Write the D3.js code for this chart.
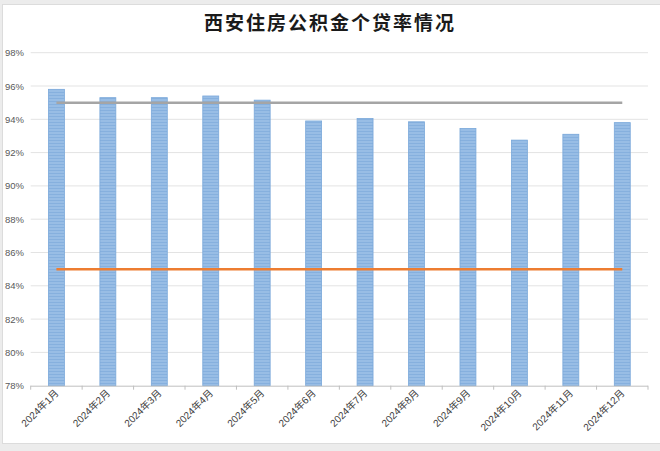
<!DOCTYPE html>
<html><head><meta charset="utf-8">
<script src="https://cdn.jsdelivr.net/npm/d3@7"></script>
<style>
html,body{margin:0;padding:0;background:#fff;}
svg{display:block;}
text{font-family:"Liberation Sans","Noto Sans CJK SC",Arial,sans-serif;}
</style></head>
<body>
<svg id="c" width="660" height="451"></svg>
<script>
const months = ["2024年1月","2024年2月","2024年3月","2024年4月","2024年5月","2024年6月","2024年7月","2024年8月","2024年9月","2024年10月","2024年11月","2024年12月"];
const rates = [95.8, 95.3, 95.3, 95.4, 95.15, 93.9, 94.05, 93.85, 93.45, 92.75, 93.1, 93.8];
const upperLine = [95,95,95,95,95,95,95,95,95,95,95,95];
const lowerLine = [85,85,85,85,85,85,85,85,85,85,85,85];
const yTicks = [78,80,82,84,86,88,90,92,94,96,98];
const title = "西安住房公积金个贷率情况";

const svg = d3.select("#c");
// frame
svg.append("rect").attr("x",0).attr("y",0).attr("width",660).attr("height",451).attr("fill","#ececec");
svg.append("rect").attr("x",2.5).attr("y",4.5).attr("width",658).attr("height",439).attr("fill","#fff").attr("stroke","#dcdcdc");

const x = d3.scaleBand().domain(months).range([30.7, 648]).padding(0);
const y = d3.scaleLinear().domain([78, 98]).range([385.7, 52.7]);

// gridlines
svg.append("g").selectAll("line").data(yTicks.slice(1)).join("line")
  .attr("x1", 30.7).attr("x2", 648)
  .attr("y1", d => y(d)).attr("y2", d => y(d))
  .attr("stroke", "#e3e3e3").attr("stroke-width", 1);

// y labels
svg.append("g").selectAll("text").data(yTicks).join("text")
  .attr("x", 24).attr("y", d => y(d) + 3.5)
  .attr("text-anchor", "end").attr("font-size", 9.5).attr("fill", "#595959")
  .text(d => d + "%");

// bars
const defs = svg.append("defs");
const pat = defs.append("pattern").attr("id","stripe").attr("patternUnits","userSpaceOnUse")
  .attr("width",4).attr("height",3);
pat.append("rect").attr("width",4).attr("height",3).attr("fill","#98bde5");
pat.append("rect").attr("y",2).attr("width",4).attr("height",1).attr("fill","#86b0de");

const bw = x.bandwidth() * 0.31;
svg.append("g").selectAll("rect").data(rates).join("rect")
  .attr("x", (d, i) => x(months[i]) + x.bandwidth()/2 - bw/2)
  .attr("y", d => y(d))
  .attr("width", bw)
  .attr("height", d => y(78) - y(d))
  .attr("fill", "url(#stripe)")
  .attr("stroke", "#7aa8da").attr("stroke-width", 0.8);

// x axis
svg.append("line").attr("x1",30.7).attr("x2",648).attr("y1",y(78)+0.5).attr("y2",y(78)+0.5)
  .attr("stroke","#bfbfbf").attr("stroke-width",1);
const bounds = months.map(m => x(m)).concat([x(months[months.length-1]) + x.bandwidth()]);
svg.append("g").selectAll("line").data(bounds).join("line")
  .attr("x1", d => d).attr("x2", d => d)
  .attr("y1", y(78)).attr("y2", y(78) + 4)
  .attr("stroke", "#bfbfbf");

// x labels
svg.append("g").selectAll("text").data(months).join("text")
  .attr("transform", d => `translate(${x(d) + x.bandwidth()/2 + 3},${y(78) + 8}) rotate(-45)`)
  .attr("text-anchor", "end").attr("font-size", 10).attr("fill", "#404040")
  .text(d => d);

// reference lines
const line = d3.line().x((d, i) => x(months[i]) + x.bandwidth()/2).y(d => y(d));
svg.append("path").datum(upperLine).attr("d", line).attr("fill","none")
  .attr("stroke","#a5a5a5").attr("stroke-width",2.5);
svg.append("path").datum(lowerLine).attr("d", line).attr("fill","none")
  .attr("stroke","#ed7d31").attr("stroke-width",2.5);

// title
svg.append("text").attr("x", 330).attr("y", 30)
  .attr("text-anchor","middle").attr("font-size",19).attr("font-weight","bold")
  .attr("letter-spacing", 2).attr("fill","#1a1a1a")
  .style("font-family", '"Noto Sans CJK SC", sans-serif')
  .text(title);
</script>
</body></html>
